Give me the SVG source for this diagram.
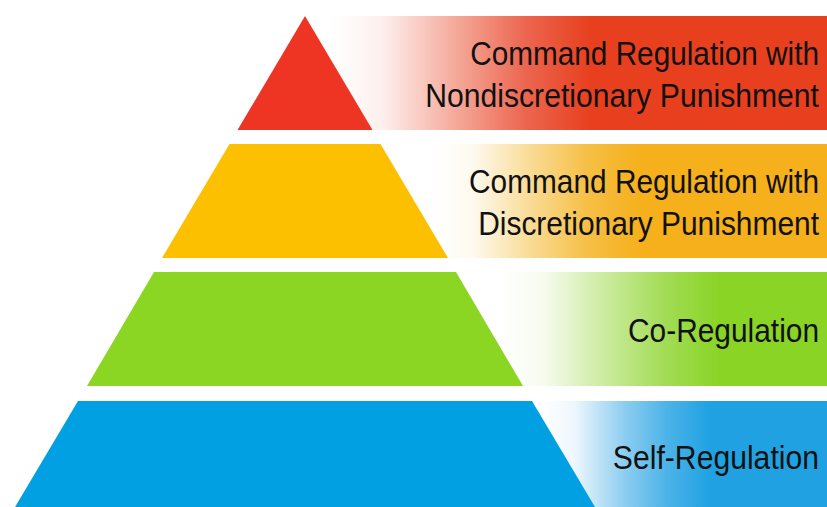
<svg xmlns="http://www.w3.org/2000/svg" width="827" height="507" viewBox="0 0 827 507">
<defs>
<linearGradient id="gRed" gradientUnits="userSpaceOnUse" x1="330" y1="0" x2="590" y2="0">
<stop offset="0" stop-color="#ffffff"/><stop offset="0.2" stop-color="#fdf0ee"/><stop offset="0.5" stop-color="#f4a595"/><stop offset="0.75" stop-color="#ec6650"/><stop offset="1" stop-color="#e8401f"/></linearGradient>
<linearGradient id="gYel" gradientUnits="userSpaceOnUse" x1="430" y1="0" x2="640" y2="0">
<stop offset="0" stop-color="#ffffff"/><stop offset="0.2" stop-color="#fefaf0"/><stop offset="0.5" stop-color="#f9d98e"/><stop offset="0.75" stop-color="#f6bf45"/><stop offset="1" stop-color="#f5b01c"/></linearGradient>
<linearGradient id="gGrn" gradientUnits="userSpaceOnUse" x1="500" y1="0" x2="720" y2="0">
<stop offset="0" stop-color="#ffffff"/><stop offset="0.2" stop-color="#f6fbee"/><stop offset="0.5" stop-color="#c8ea98"/><stop offset="0.75" stop-color="#a2dc55"/><stop offset="1" stop-color="#8ad426"/></linearGradient>
<linearGradient id="gBlu" gradientUnits="userSpaceOnUse" x1="540" y1="0" x2="710" y2="0">
<stop offset="0" stop-color="#ffffff"/><stop offset="0.2" stop-color="#eef7fd"/><stop offset="0.5" stop-color="#8ccdf0"/><stop offset="0.75" stop-color="#4bb3e8"/><stop offset="1" stop-color="#20a2e2"/></linearGradient>
</defs>
<style>
text{font-family:"Liberation Sans",Arial,sans-serif;font-size:34px;fill:#111;text-anchor:end}
</style>
<rect width="827" height="507" fill="#ffffff"/>
<g id="tier-command-nondiscretionary">
<rect x="305" y="16" width="522" height="114" fill="url(#gRed)"/>
<polygon points="305,16 372.5,130 237.5,130" fill="#ee3524"/>
<text transform="matrix(0.875,0,0,1,819,65)">Command Regulation with</text>
<text transform="matrix(0.887,0,0,1,819,107)">Nondiscretionary Punishment</text>
</g>
<g id="tier-command-discretionary">
<rect x="380" y="144" width="447" height="114" fill="url(#gYel)"/>
<polygon points="229.5,144 380.5,144 448,258 162,258" fill="#fdc000"/>
<text transform="matrix(0.878,0,0,1,819,193)">Command Regulation with</text>
<text transform="matrix(0.88,0,0,1,819,235)">Discretionary Punishment</text>
</g>
<g id="tier-co-regulation">
<rect x="455" y="272" width="372" height="114" fill="url(#gGrn)"/>
<polygon points="154,272 456,272 523,386 87,386" fill="#8bd523"/>
<text transform="matrix(0.879,0,0,1,819,342)">Co-Regulation</text>
</g>
<g id="tier-self-regulation">
<rect x="530" y="401" width="297" height="106" fill="url(#gBlu)"/>
<polygon points="78,401 532,401 595,507 15,507" fill="#00a0e3"/>
<text transform="matrix(0.887,0,0,1,819,469)">Self-Regulation</text>
</g>
<g id="connectors"/>
</svg>
